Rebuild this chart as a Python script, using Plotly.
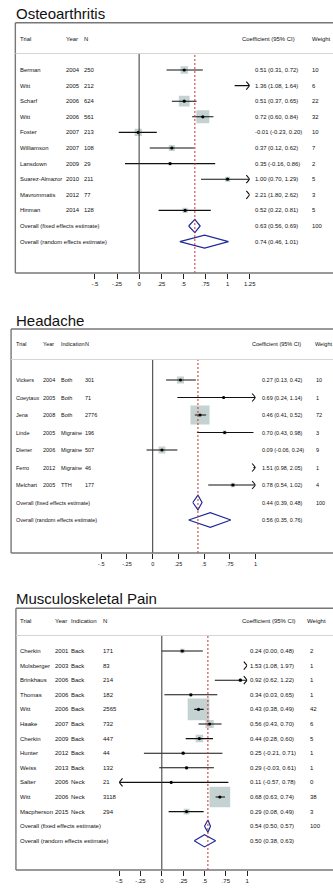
import math
import plotly.graph_objects as go

W, H = 333, 888
FONT = "Arial, Liberation Sans, sans-serif"

# ---------------- Osteoarthritis ----------------
oa_trial = ["Berman", "Witt", "Scharf", "Witt", "Foster", "Williamson", "Lansdown",
            "Suarez-Almazor", "Mavrommatis", "Hinman"]
oa_year = [2004, 2005, 2006, 2006, 2007, 2007, 2009, 2010, 2012, 2014]
oa_n = [250, 212, 624, 561, 213, 108, 29, 211, 77, 128]
oa_coef = [0.51, 1.36, 0.51, 0.72, -0.01, 0.37, 0.35, 1.00, 2.21, 0.52]
oa_lo = [0.31, 1.08, 0.37, 0.60, -0.23, 0.12, -0.16, 0.70, 1.80, 0.22]
oa_hi = [0.72, 1.64, 0.65, 0.84, 0.20, 0.62, 0.86, 1.29, 2.62, 0.81]
oa_weight = [10, 6, 22, 32, 10, 7, 2, 5, 3, 5]
oa_fixed = [0.63, 0.56, 0.69]
oa_random = [0.74, 0.46, 1.01]
oa_ticks = [-0.5, -0.25, 0, 0.25, 0.5, 0.75, 1, 1.25]
oa_ticktext = ["-.5", "-.25", "0", ".25", ".5", ".75", "1", "1.25"]

# ---------------- Headache ----------------
ha_trial = ["Vickers", "Coeytaux", "Jena", "Linde", "Diener", "Ferro", "Melchart"]
ha_year = [2004, 2005, 2008, 2005, 2006, 2012, 2005]
ha_indication = ["Both", "Both", "Both", "Migraine", "Migraine", "Migraine", "TTH"]
ha_n = [301, 71, 2776, 196, 507, 46, 177]
ha_coef = [0.27, 0.69, 0.46, 0.70, 0.09, 1.51, 0.78]
ha_lo = [0.13, 0.24, 0.41, 0.43, -0.06, 0.98, 0.54]
ha_hi = [0.42, 1.14, 0.52, 0.98, 0.24, 2.05, 1.02]
ha_weight = [10, 1, 72, 3, 9, 1, 4]
ha_fixed = [0.44, 0.39, 0.48]
ha_random = [0.56, 0.35, 0.76]
ha_ticks = [-0.5, -0.25, 0, 0.25, 0.5, 0.75, 1]
ha_ticktext = ["-.5", "-.25", "0", ".25", ".5", ".75", "1"]

# ---------------- Musculoskeletal Pain ----------------
mp_trial = ["Cherkin", "Molsberger", "Brinkhaus", "Thomas", "Witt", "Haake", "Cherkin",
            "Hunter", "Weiss", "Salter", "Witt", "Macpherson"]
mp_year = [2001, 2003, 2006, 2006, 2006, 2007, 2009, 2012, 2013, 2006, 2006, 2015]
mp_indication = ["Back"] * 9 + ["Neck"] * 3
mp_n = [171, 83, 214, 182, 2565, 732, 447, 44, 132, 21, 3118, 294]
mp_coef = [0.24, 1.53, 0.92, 0.34, 0.43, 0.56, 0.44, 0.25, 0.29, 0.11, 0.68, 0.29]
mp_lo = [0.00, 1.08, 0.62, 0.03, 0.38, 0.43, 0.28, -0.21, -0.03, -0.57, 0.63, 0.08]
mp_hi = [0.48, 1.97, 1.22, 0.65, 0.49, 0.70, 0.60, 0.71, 0.61, 0.78, 0.74, 0.49]
mp_weight = [2, 1, 1, 1, 42, 6, 5, 1, 1, 0, 38, 3]
mp_fixed = [0.54, 0.50, 0.57]
mp_random = [0.50, 0.38, 0.63]
mp_ticks = [-0.5, -0.25, 0, 0.25, 0.5, 0.75, 1]
mp_ticktext = ["-.5", "-.25", "0", ".25", ".5", ".75", "1"]

FIXED_LABEL = "Overall (fixed effects estimate)"
RANDOM_LABEL = "Overall (random effects estimate)"

# Panel geometry (pixels on the 333 x 888 page)
panels = [
    dict(title="Osteoarthritis",
         trial=oa_trial, year=oa_year, indication=None, n=oa_n,
         coef=oa_coef, lo=oa_lo, hi=oa_hi, weight=oa_weight,
         fixed=oa_fixed, random=oa_random, ticks=oa_ticks, ticktext=oa_ticktext,
         window=(-0.5, 1.25),
         title_y=13, box_top=22.7, header_y=38.5, sep_y=53.5, first_row=70,
         step=15.6, box_bottom=273, box_left=11.7, zero_px=139.3, unit_px=91.2,
         font=5.9, box_k=2.3,
         col_trial=16.7, col_year=63.5, col_ind=None, col_n=82.7,
         col_coef=258.3, col_weight=317.7, head_coef=245, head_weight=317.7),
    dict(title="Headache",
         trial=ha_trial, year=ha_year, indication=ha_indication, n=ha_n,
         coef=ha_coef, lo=ha_lo, hi=ha_hi, weight=ha_weight,
         fixed=ha_fixed, random=ha_random, ticks=ha_ticks, ticktext=ha_ticktext,
         window=(-0.5, 1.0),
         title_y=320, box_top=329, header_y=344, sep_y=359.5, first_row=380,
         step=17.5, box_bottom=553, box_left=7.3, zero_px=153.3, unit_px=106,
         font=5.5, box_k=2.25,
         col_trial=12.3, col_year=40, col_ind=58.3, col_n=83.5,
         col_coef=265.7, col_weight=321.7, head_coef=256, head_weight=320.5),
    dict(title="Musculoskeletal Pain",
         trial=mp_trial, year=mp_year, indication=mp_indication, n=mp_n,
         coef=mp_coef, lo=mp_lo, hi=mp_hi, weight=mp_weight,
         fixed=mp_fixed, random=mp_random, ticks=mp_ticks, ticktext=mp_ticktext,
         window=(-0.5, 1.0),
         title_y=598.5, box_top=608.3, header_y=621, sep_y=635.5, first_row=651,
         step=14.6, box_bottom=870, box_left=12.3, zero_px=162.7, unit_px=88,
         font=6.0, box_k=3.35,
         col_trial=16.7, col_year=52.5, col_ind=69.3, col_n=101.7,
         col_coef=253.3, col_weight=315, head_coef=245, head_weight=312),
]

BOX_FILL = "#acbfbf"
DIAMOND = "#1f2a9c"
REF_RED = "#c9302c"
FRAME = "#777777"
TEXT = "#111111"


def paper_x(px):
    return px / W


def paper_y(px):
    return 1 - px / H


fig = go.Figure()
shapes, annotations = [], []
layout_axes = {}


def label(text, x, y, yref, font):
    return dict(text=text, xref="paper", yref=yref, x=x, y=y, xanchor="left",
                yanchor="middle", showarrow=False, borderpad=0, borderwidth=0,
                font=font)


for k, p in enumerate(panels, start=1):
    xname = "x" if k == 1 else f"x{k}"
    yname = "y" if k == 1 else f"y{k}"
    w0, w1 = p["window"]
    step, first = p["step"], p["first_row"]

    # axes: x in effect units, y in row units (rows run downward)
    x_left_px = p["zero_px"] + w0 * p["unit_px"]
    x_right_px = p["zero_px"] + w1 * p["unit_px"]
    layout_axes["xaxis" if k == 1 else f"xaxis{k}"] = dict(
        domain=[paper_x(x_left_px), paper_x(x_right_px)], range=[w0, w1],
        anchor=yname, showgrid=False, zeroline=False, showline=False,
        ticks="outside", ticklen=5, tickwidth=1, tickcolor="#222",
        tickvals=p["ticks"], ticktext=p["ticktext"],
        tickfont=dict(family=FONT, size=p["font"], color=TEXT), fixedrange=True)
    top_val = (p["sep_y"] - first) / step
    bot_val = (p["box_bottom"] - first) / step
    layout_axes["yaxis" if k == 1 else f"yaxis{k}"] = dict(
        domain=[paper_y(p["box_bottom"]), paper_y(p["sep_y"])],
        range=[bot_val, top_val], anchor=xname, visible=False, fixedrange=True)

    n_trials = len(p["trial"])
    rows = list(range(n_trials))
    fixed_row, random_row = n_trials, n_trials + 1

    # pixel-sized details converted to data units
    dx = 1 / p["unit_px"]
    dy = 1 / step

    # weighted boxes
    bx, by, bs = [], [], []
    for r, c, w in zip(rows, p["coef"], p["weight"]):
        if w0 <= c <= w1 and w > 0:
            bx.append(c)
            by.append(r)
            bs.append(p["box_k"] * math.sqrt(w))
    fig.add_trace(go.Scatter(x=bx, y=by, mode="markers", xaxis=xname, yaxis=yname,
                             marker=dict(symbol="square", size=bs, color=BOX_FILL,
                                         line=dict(width=0)),
                             hoverinfo="skip"))

    # confidence intervals, clipped to the window with arrowheads
    lx, ly = [], []
    for r, lo, hi in zip(rows, p["lo"], p["hi"]):
        a, b = max(lo, w0), min(hi, w1)
        if a < b:
            lx += [a, b, None]
            ly += [r, r, None]
        if hi > w1:
            lx += [w1 - 3.5 * dx, w1, w1 - 3.5 * dx, None]
            ly += [r - 4 * dy, r, r + 4 * dy, None]
        if lo < w0:
            lx += [w0 + 3.5 * dx, w0, w0 + 3.5 * dx, None]
            ly += [r - 4 * dy, r, r + 4 * dy, None]
    fig.add_trace(go.Scatter(x=lx, y=ly, mode="lines", xaxis=xname, yaxis=yname,
                             line=dict(color="#111", width=1.1), hoverinfo="skip"))

    # point estimates
    dxs = [c for c in p["coef"] if w0 <= c <= w1]
    dys = [r for r, c in zip(rows, p["coef"]) if w0 <= c <= w1]
    fig.add_trace(go.Scatter(x=dxs, y=dys, mode="markers", xaxis=xname, yaxis=yname,
                             marker=dict(symbol="circle", size=3.2, color="#000"),
                             hoverinfo="skip"))

    # pooled estimates as diamonds
    ddx, ddy = [], []
    hh = 0.42
    for r, (est, lo, hi) in ((fixed_row, p["fixed"]), (random_row, p["random"])):
        ddx += [lo, est, hi, est, lo, None]
        ddy += [r, r - hh, r, r + hh, r, None]
    fig.add_trace(go.Scatter(x=ddx, y=ddy, mode="lines", xaxis=xname, yaxis=yname,
                             line=dict(color=DIAMOND, width=1.2), hoverinfo="skip"))

    # null line and pooled (fixed) reference line
    shapes.append(dict(type="line", xref=xname, yref=f"{yname} domain",
                       x0=0, x1=0, y0=0, y1=1, line=dict(color="#333", width=1)))
    shapes.append(dict(type="line", xref=xname, yref=f"{yname} domain",
                       x0=p["fixed"][0], x1=p["fixed"][0], y0=0, y1=1,
                       line=dict(color=REF_RED, width=1, dash="2px,2px")))

    # outer frame (open on the right) and header rule
    bl = paper_x(p["box_left"])
    frame = dict(color=FRAME, width=1.4)
    shapes.append(dict(type="line", xref="paper", yref="paper", x0=bl, x1=1.05,
                       y0=paper_y(p["box_top"]), y1=paper_y(p["box_top"]), line=frame))
    shapes.append(dict(type="line", xref="paper", yref="paper", x0=bl, x1=1.05,
                       y0=paper_y(p["box_bottom"]), y1=paper_y(p["box_bottom"]), line=frame))
    shapes.append(dict(type="line", xref="paper", yref="paper", x0=bl, x1=bl,
                       y0=paper_y(p["box_top"]), y1=paper_y(p["box_bottom"]), line=frame))
    shapes.append(dict(type="line", xref="paper", yref="paper", x0=bl, x1=1.05,
                       y0=paper_y(p["sep_y"]), y1=paper_y(p["sep_y"]),
                       line=dict(color="#d4d4d4", width=1)))

    # panel title
    annotations.append(label(p["title"], paper_x(12.5), paper_y(p["title_y"]), "paper",
                             dict(family=FONT, size=15, color="#111")))

    # header row
    hf = dict(family=FONT, size=p["font"], color=TEXT)
    hy = paper_y(p["header_y"])
    heads = [("Trial", p["col_trial"]), ("Year", p["col_year"]), ("N", p["col_n"]),
             ("Coefficient (95% CI)", p["head_coef"]), ("Weight", p["head_weight"])]
    if p["indication"] is not None:
        heads.append(("Indication", p["col_ind"]))
    for txt, cx in heads:
        annotations.append(label(txt, paper_x(cx), hy, "paper", hf))

    # table text for each trial and pooled rows
    rf = dict(family=FONT, size=p["font"], color=TEXT)

    def cell(txt, cx, r):
        annotations.append(label(txt, paper_x(cx), r, yname, rf))

    for i in rows:
        cell(p["trial"][i], p["col_trial"], i)
        cell(str(p["year"][i]), p["col_year"], i)
        if p["indication"] is not None:
            cell(p["indication"][i], p["col_ind"], i)
        cell(str(p["n"][i]), p["col_n"], i)
        cell(f"{p['coef'][i]:.2f} ({p['lo'][i]:.2f}, {p['hi'][i]:.2f})", p["col_coef"], i)
        cell(str(p["weight"][i]), p["col_weight"], i)
    fe, fl, fh = p["fixed"]
    re_, rl, rh = p["random"]
    cell(FIXED_LABEL, p["col_trial"], fixed_row)
    cell(f"{fe:.2f} ({fl:.2f}, {fh:.2f})", p["col_coef"], fixed_row)
    cell("100", p["col_weight"], fixed_row)
    cell(RANDOM_LABEL, p["col_trial"], random_row)
    cell(f"{re_:.2f} ({rl:.2f}, {rh:.2f})", p["col_coef"], random_row)

fig.update_layout(
    width=W, height=H, margin=dict(l=0, r=0, t=0, b=0),
    paper_bgcolor="white", plot_bgcolor="rgba(0,0,0,0)",
    showlegend=False, shapes=shapes, annotations=annotations,
    font=dict(family=FONT), **layout_axes)

fig.write_html("out.html", config={"displayModeBar": False})
